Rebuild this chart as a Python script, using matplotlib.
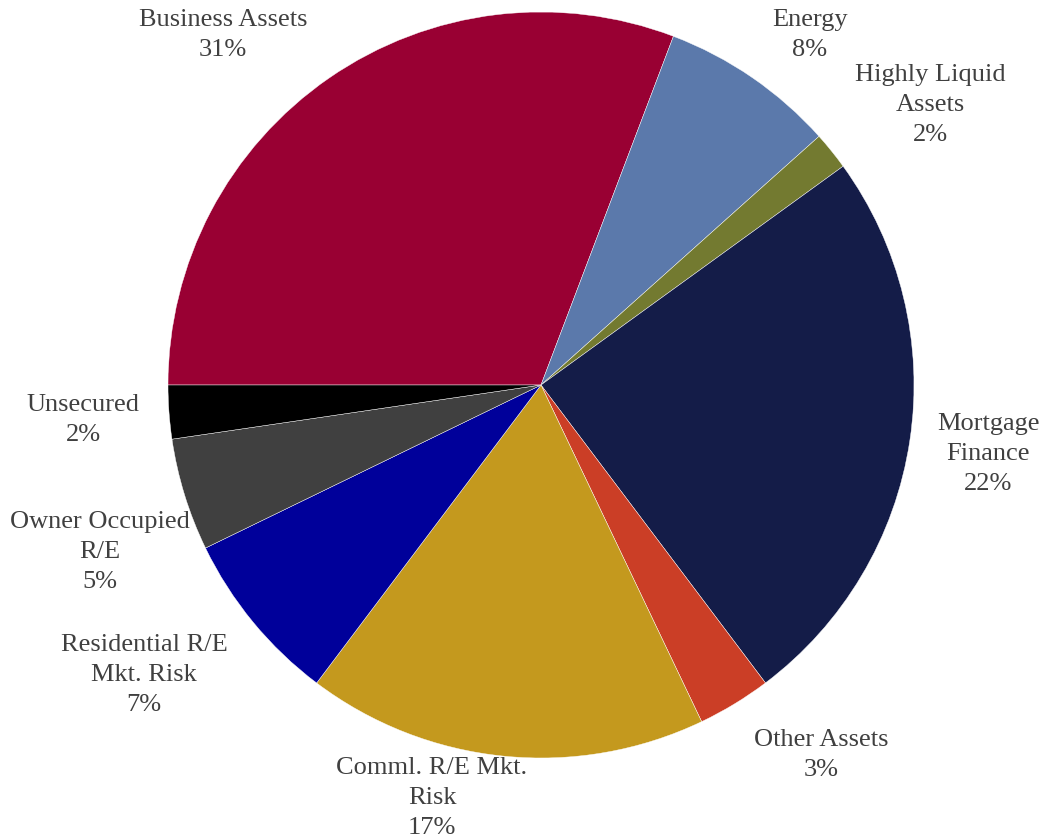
import matplotlib
matplotlib.use("Agg")
import matplotlib.pyplot as plt

categories = ["Business Assets", "Energy", "Highly Liquid\nAssets", "Mortgage\nFinance",
              "Other Assets", "Comml. R/E Mkt.\nRisk", "Residential R/E\nMkt. Risk",
              "Owner Occupied\nR/E", "Unsecured"]
shares = [30.78, 7.61, 1.64, 24.7, 3.19, 17.36, 7.53, 4.88, 2.32]
pct_labels = ["31%", "8%", "2%", "22%", "3%", "17%", "7%", "5%", "2%"]
colors = ["#990033", "#5B79AB", "#737A30", "#141C48", "#CB3E26",
          "#C4991E", "#00009A", "#404040", "#000000"]

# label block centres in pixels (layout only)
label_px = [(223, 35), (810, 35), (930, 105), (988, 454), (821, 755),
            (432, 798), (144, 675), (100, 552), (83, 420)]

W, H = 1042, 837
cx, cy, R = 541, 386, 373

plt.rcParams["font.family"] = ["Liberation Serif", "DejaVu Serif"]
fig = plt.figure(figsize=(W / 100, H / 100), dpi=100)
ax = fig.add_axes([0, 0, 1, 1])
ax.pie(shares, colors=colors, startangle=180, counterclock=False,
       wedgeprops=dict(edgecolor="white", linewidth=0.3))
ax.set_xlim(-cx / R, (W - cx) / R)
ax.set_ylim(-(H - cy) / R, cy / R)
ax.set_aspect("auto")
ax.axis("off")

for name, pct, (px, py) in zip(categories, pct_labels, label_px):
    ax.text((px - cx) / R, (cy - py) / R, name + "\n" + pct, ha="center", va="center",
            fontsize=19, color="#404040", linespacing=1.45)

fig.savefig("out.png", dpi=100)
